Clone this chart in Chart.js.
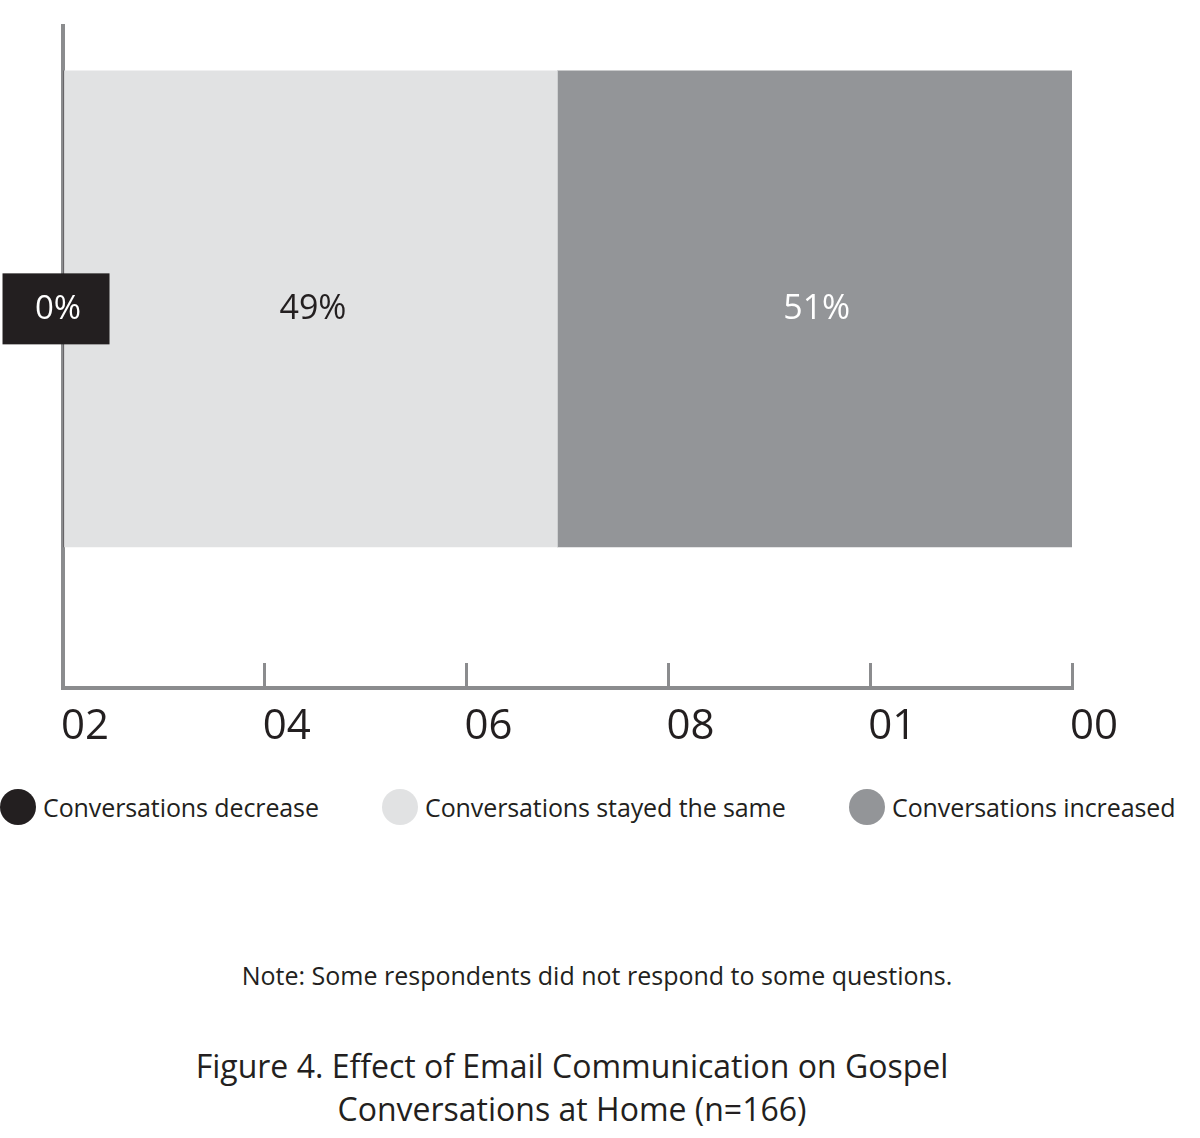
<!DOCTYPE html>
<html>
<head>
<meta charset="utf-8">
<script src="https://cdn.jsdelivr.net/npm/chart.js@4/dist/chart.umd.min.js"></script>
<style>
  html, body { margin: 0; padding: 0; background: #fff; }
  body { width: 1200px; height: 1138px; position: relative; overflow: hidden;
         font-family: "Open Sans", "Noto Sans", sans-serif; color: #231f20; }
  #chart-wrap { position: absolute; left: 0; top: 0; width: 1200px; height: 770px; }
  .legend-item { position: absolute; top: 789px; height: 36px; display: flex; align-items: center; }
  .legend-item .dot { width: 36px; height: 36px; border-radius: 50%; margin-right: 7px; flex: none; }
  .legend-item span { font-size: 25px; white-space: nowrap; letter-spacing: -0.1px; }
  #note { position: absolute; left: 0; width: 1194px; top: 958px; text-align: center; font-size: 25px; }
  #title { position: absolute; left: 0; width: 1144px; top: 1044px; text-align: center;
           font-size: 32px; line-height: 43px; }
</style>
</head>
<body>
<div id="chart-wrap"><canvas id="chart"></canvas></div>
<div id="legend"></div>
<div id="note">Note: Some respondents did not respond to some questions.</div>
<div id="title">Figure 4. Effect of Email Communication on Gospel<br>Conversations at Home (n=166)</div>

<script>
'use strict';

// ── Data ────────────────────────────────────────────────
const SERIES      = ['Conversations decrease', 'Conversations stayed the same', 'Conversations increased'];
const VALUES      = [0, 49, 51];                 // percent
const TICK_VALUES = [0, 20, 40, 60, 80, 100];
const TICK_LABELS = ['02', '04', '06', '08', '01', '00'];  // as printed in the figure
const ROW_POS     = 0.58;                        // where the single bar sits on the vertical scale

// ── Styles ──────────────────────────────────────────────
const FILLS       = ['#231f20', '#e1e2e3', '#939598'];
const LABEL_INK   = ['#ffffff', '#231f20', '#ffffff'];
const AXIS_GRAY   = '#8b8c8e';
const FONT        = '"Open Sans", "Noto Sans", sans-serif';
const LEGEND_LEFT = [0, 382, 849];

// ── Legend (HTML) ───────────────────────────────────────
const legendEl = document.getElementById('legend');
SERIES.forEach((name, i) => {
  const item = document.createElement('div');
  item.className = 'legend-item';
  item.style.left = LEGEND_LEFT[i] + 'px';
  item.innerHTML = `<div class="dot" style="background:${FILLS[i]}"></div><span>${name}</span>`;
  legendEl.appendChild(item);
});

// ── Value labels on the segments ────────────────────────
const valueLabels = {
  id: 'valueLabels',
  afterDatasetsDraw(chart) {
    const ctx = chart.ctx;
    ctx.save();
    ctx.textAlign = 'center';
    ctx.textBaseline = 'middle';
    chart.data.datasets.forEach((ds, i) => {
      const meta = chart.getDatasetMeta(i);
      meta.data.forEach(el => {
        const v = VALUES[i];
        const text = `${v}%`;
        if (v === 0) {
          // zero segment: dark tag straddling the axis
          const w = 107, h = 71;
          const cx = el.x - 7;
          ctx.fillStyle = FILLS[i];
          ctx.fillRect(cx - w / 2, el.y - h / 2, w, h);
          ctx.fillStyle = LABEL_INK[i];
          ctx.font = `33px ${FONT}`;
          ctx.fillText(text, cx + 2, el.y + 1);
        } else {
          ctx.fillStyle = LABEL_INK[i];
          ctx.font = `34px ${FONT}`;
          ctx.fillText(text, (el.x + el.base) / 2 + 2, el.y);
        }
      });
    });
    ctx.restore();
  }
};

// ── Chart ───────────────────────────────────────────────
new Chart(document.getElementById('chart').getContext('2d'), {
  type: 'bar',
  data: {
    datasets: SERIES.map((name, i) => ({
      label: name,
      data: [{ x: VALUES[i], y: ROW_POS }],
      backgroundColor: FILLS[i],
      borderWidth: 0,
      barThickness: 476,
    })),
  },
  options: {
    indexAxis: 'y',
    responsive: true,
    maintainAspectRatio: false,
    animation: false,
    layout: { padding: { top: 26, left: 58, right: 128, bottom: 0 } },
    plugins: { legend: { display: false }, tooltip: { enabled: false } },
    scales: {
      x: {
        type: 'linear', stacked: true, min: 0, max: 100,
        afterBuildTicks: s => { s.ticks = TICK_VALUES.map(v => ({ value: v })); },
        afterFit: s => { s.height = 82; },
        border: { display: true, color: AXIS_GRAY, width: 4 },
        grid: { display: true, drawOnChartArea: false, drawTicks: true,
                tickLength: -25, color: AXIS_GRAY, lineWidth: 3 },
        ticks: {
          callback: (v, i) => TICK_LABELS[i],
          color: '#231f20', font: { family: FONT, size: 42 },
          padding: 39, labelOffset: 22, maxRotation: 0, autoSkip: false,
        },
      },
      y: {
        type: 'linear', stacked: true, min: 0, max: 1,
        afterFit: s => { s.width = 0; },
        border: { display: true, color: AXIS_GRAY, width: 4 },
        grid: { display: false, drawTicks: false },
        ticks: { display: false },
      },
    },
  },
  plugins: [valueLabels],
});
</script>
</body>
</html>
